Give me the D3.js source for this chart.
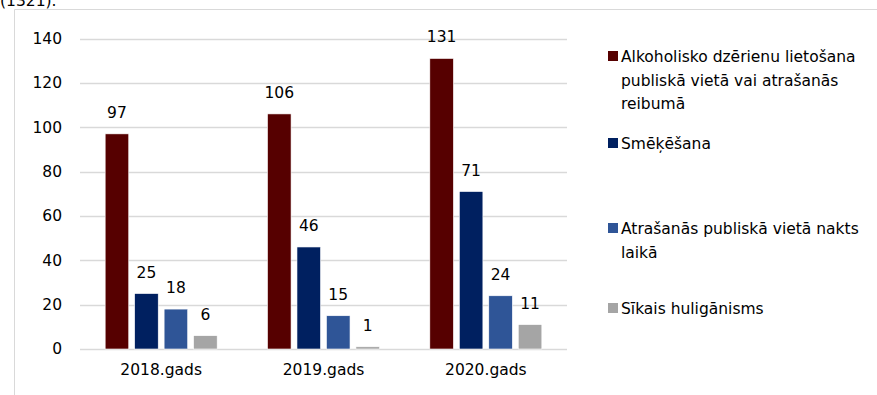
<!DOCTYPE html>
<html>
<head>
<meta charset="utf-8">
<script src="https://cdn.jsdelivr.net/npm/d3@7"></script>
<style>
  body { margin: 0; background: #fff; }
  svg { display: block; font-family: "DejaVu Sans", Verdana, sans-serif; }
</style>
</head>
<body>
<div id="chart"></div>
<script>
// chart data
var years = ['2018.gads', '2019.gads', '2020.gads'];
var seriesNames = [
  'Alkoholisko dzērienu lietošana publiskā vietā vai atrašanās reibumā',
  'Smēķēšana',
  'Atrašanās publiskā vietā nakts laikā',
  'Sīkais huligānisms'
];
var alcohol = [97, 106, 131];
var smoking = [25, 46, 71];
var night = [18, 15, 24];
var hooligan = [6, 1, 11];
var yTicks = [0, 20, 40, 60, 80, 100, 120, 140];

// legend lines as drawn (wrapped)
var legendLines = [
  ['Alkoholisko dzērienu lietošana', 'publiskā vietā vai atrašanās', 'reibumā'],
  ['Smēķēšana'],
  ['Atrašanās publiskā vietā nakts', 'laikā'],
  ['Sīkais huligānisms']
];

var colors = ['#560000', '#002060', '#2f5597', '#a5a5a5'];
var values = [alcohol, smoking, night, hooligan];

var width = 877, height = 395;

var svg = d3.select('#chart').append('svg')
  .attr('width', width)
  .attr('height', height);

// cut-off caption line above the chart frame
svg.append('text')
  .attr('x', 0)
  .attr('y', 6)
  .attr('font-size', 15.5)
  .attr('fill', '#000')
  .text('(1321).');

// chart frame (right side runs off the page)
svg.append('path')
  .attr('d', 'M14.5,' + height + 'V9.5H' + width)
  .attr('fill', 'none')
  .attr('stroke', '#d9d9d9')
  .attr('stroke-width', 1);

var y = d3.scaleLinear()
  .domain([0, 140])
  .range([349, 38.5]);

var x0 = d3.scaleBand()
  .domain(years)
  .range([80, 567])
  .paddingInner(0.31)
  .paddingOuter(0.155);

var x1 = d3.scaleBand()
  .domain(d3.range(seriesNames.length))
  .range([0, x0.bandwidth()])
  .paddingInner(0.2)
  .paddingOuter(0);

// gridlines
svg.append('g')
  .selectAll('line')
  .data(yTicks)
  .enter().append('line')
  .attr('x1', 80)
  .attr('x2', 567)
  .attr('y1', function(d) { return Math.round(y(d)) + 0.5; })
  .attr('y2', function(d) { return Math.round(y(d)) + 0.5; })
  .attr('stroke', '#d9d9d9')
  .attr('stroke-width', 1.5);

// y axis labels
var yAxis = svg.append('g')
  .attr('transform', 'translate(68,0)')
  .call(d3.axisLeft(y).tickValues(yTicks).tickSize(0).tickPadding(6));
yAxis.select('.domain').remove();
yAxis.selectAll('text')
  .attr('font-size', 15.5)
  .attr('font-family', '"DejaVu Sans", Verdana, sans-serif')
  .attr('fill', '#000');

// x axis labels
var xAxis = svg.append('g')
  .attr('transform', 'translate(0,349)')
  .call(d3.axisBottom(x0).tickSize(0).tickPadding(15));
xAxis.select('.domain').remove();
xAxis.selectAll('text')
  .attr('font-size', 15.5)
  .attr('font-family', '"DejaVu Sans", Verdana, sans-serif')
  .attr('fill', '#000');

// bars
var groups = svg.append('g')
  .selectAll('g')
  .data(years)
  .enter().append('g')
  .attr('transform', function(d) { return 'translate(' + x0(d) + ',0)'; });

groups.selectAll('rect')
  .data(function(d, i) { return values.map(function(v, s) { return {s: s, v: v[i]}; }); })
  .enter().append('rect')
  .attr('x', function(d) { return x1(d.s); })
  .attr('y', function(d) { return y(d.v); })
  .attr('width', x1.bandwidth())
  .attr('height', function(d) { return y(0) - y(d.v); })
  .attr('fill', function(d) { return colors[d.s]; })
  .attr('stroke', '#fff')
  .attr('stroke-width', 0.6);

// value labels
groups.selectAll('text.val')
  .data(function(d, i) { return values.map(function(v, s) { return {s: s, v: v[i]}; }); })
  .enter().append('text')
  .attr('class', 'val')
  .attr('x', function(d) { return x1(d.s) + x1.bandwidth() / 2; })
  .attr('y', function(d) { return y(d.v) - 16; })
  .attr('text-anchor', 'middle')
  .attr('font-size', 15.5)
  .attr('fill', '#000')
  .text(function(d) { return d.v; });

// legend
var legendTop = [62, 149, 234, 314];
var legend = svg.append('g');
legendLines.forEach(function(lines, i) {
  legend.append('rect')
    .attr('x', 608)
    .attr('y', legendTop[i] - 11)
    .attr('width', 10)
    .attr('height', 10)
    .attr('fill', colors[i]);
  legend.append('text')
    .attr('x', 621)
    .attr('y', legendTop[i])
    .attr('font-size', 15.5)
    .attr('fill', '#000')
    .selectAll('tspan')
    .data(lines)
    .enter().append('tspan')
    .attr('x', 621)
    .attr('dy', function(d, j) { return j === 0 ? 0 : 23.5; })
    .text(function(d) { return d; });
});
</script>
</body>
</html>
